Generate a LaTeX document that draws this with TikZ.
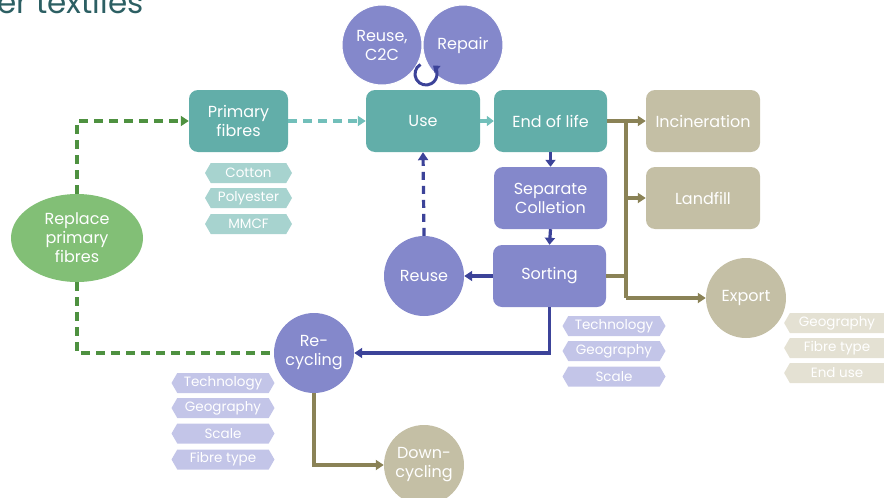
\documentclass[tikz,border=0pt]{standalone}
\usepackage{fontspec}
\setmainfont{Poppins}
\usetikzlibrary{shapes.geometric,shapes.symbols,arrows.meta,calc}
\definecolor{teal1}{HTML}{62AEA9}
\definecolor{teallight}{HTML}{A7D3CF}
\definecolor{tealarrow}{HTML}{72BFBA}
\definecolor{purp}{HTML}{8488CB}
\definecolor{purplight}{HTML}{C3C5E8}
\definecolor{bluearrow}{HTML}{3C4399}
\definecolor{olive}{HTML}{8A8256}
\definecolor{beige}{HTML}{C4BFA5}
\definecolor{beigelight}{HTML}{E4E1D3}
\definecolor{greenfill}{HTML}{82BF76}
\definecolor{greendash}{HTML}{4E9140}
\definecolor{titlecol}{HTML}{2C5F63}
\begin{document}
\begin{tikzpicture}[x=1pt,y=-1pt,
  box/.style={rounded corners=9pt,minimum width=114pt,minimum height=62pt,text=white,
    font=\fontsize{16}{19}\selectfont,align=center,inner sep=2pt},
  tbox/.style={box,fill=teal1},
  pbox/.style={box,fill=purp},
  bbox/.style={box,fill=beige},
  circ/.style={circle,minimum size=80pt,inner sep=0pt,text=white,
    font=\fontsize{16}{19}\selectfont,align=center},
  tagbase/.style={signal,signal to=west and east,signal pointer angle=120,
    minimum height=20pt,inner sep=1pt,text=white,font=\fontsize{13.5}{15}\selectfont},
  ttag/.style={tagbase,fill=teallight,minimum width=87pt},
  ptag/.style={tagbase,fill=purplight,minimum width=103pt},
  etag/.style={tagbase,signal to=west,fill=beigelight,minimum width=110pt},
  arr/.style={line width=3.2pt,-{Triangle[length=8pt,width=10pt]}},
  bluearr/.style={arr,draw=bluearrow,color=bluearrow},
  olivearr/.style={arr,draw=olive,color=olive},
  oliveline/.style={line width=3.2pt,draw=olive},
  greenarr/.style={arr,draw=greendash,color=greendash,dash pattern=on 9pt off 6pt},
  greenline/.style={line width=3.4pt,draw=greendash,dash pattern=on 9pt off 6pt},
]
\useasboundingbox (0,0) rectangle (884,498);
% title fragment
\node[anchor=base west,inner sep=0pt,text=titlecol,font=\fontsize{31}{34}\selectfont] (title) at (-3,13) {er textiles};

% main boxes
\node[tbox,minimum width=99pt] (prim) at (238.5,121) {Primary\\fibres};
\node[tbox] (use) at (423,121) {Use};
\node[tbox,minimum width=113pt] (eol) at (550.5,121) {End of life};
\node[bbox] (inc) at (703,121) {Incineration};
\node[bbox] (land) at (703,198) {Landfill};
\node[pbox,minimum width=113pt] (sep) at (550.5,198) {Separate\\Colletion};
\node[pbox,minimum width=113pt] (sort) at (549.5,276) {Sorting};

% circles
\node[circ,fill=purp,draw=white,line width=1pt] (c2c) at (382,45) {Reuse,\\C2C};
\node[circ,fill=purp,draw=white,line width=1pt] (repair) at (463,45) {Repair};
\node[circ,fill=purp] (reuse) at (424,276) {Reuse};
\node[circ,fill=purp] (recyc) at (314,353) {Re-\\cycling};
\node[circ,fill=beige] (down) at (424,465) {Down-\\cycling};
\node[circ,fill=beige] (export) at (746,298) {Export};
\node[ellipse,fill=greenfill,minimum width=132pt,minimum height=88pt,inner sep=0pt,
  text=white,font=\fontsize{16}{19}\selectfont,align=center] (repl) at (77,238) {Replace\\primary\\fibres};

% tags
\node[ttag] (t1) at (248.5,173) {Cotton};
\node[ttag] (t2) at (248.5,198) {Polyester};
\node[ttag] (t3) at (248.5,224) {MMCF};
\node[ptag] (s1) at (614,326) {Technology};
\node[ptag] (s2) at (614,351) {Geography};
\node[ptag] (s3) at (614,376.5) {Scale};
\node[ptag] (r1) at (223,383) {Technology};
\node[ptag] (r2) at (223,408) {Geography};
\node[ptag] (r3) at (223,433.5) {Scale};
\node[ptag] (r4) at (223,459.5) {Fibre type};
\node[etag] (e1) at (842,323) {\hspace*{-10pt}Geography};
\node[etag] (e2) at (842,348) {\hspace*{-10pt}Fibre type};
\node[etag] (e3) at (842,373) {\hspace*{-10pt}End use};

% coordinates
\coordinate (vtop) at (626,121);
\coordinate (vexp) at (626,298);
\coordinate (loopc) at (426,74);

% green dashed
\draw[greenarr] (repl.north) |- (prim.west);
\draw[greenline] (repl.south) |- (recyc.west);
% teal
\draw[arr,draw=tealarrow,color=tealarrow,dash pattern=on 9pt off 6pt] (prim.east) -- (use.west);
\draw[arr,draw=tealarrow,color=tealarrow,-{Triangle[length=7pt,width=10pt]}] (use.east) -- (eol.west);
% blue
\draw[bluearr,-{Triangle[length=7pt,width=10pt]}] (eol.south) -- (sep.north);
\draw[bluearr,-{Triangle[length=7pt,width=10pt]}] (sep.south) -- (sort.north);
\draw[bluearr] (sort.west) -- (reuse.east);
\draw[bluearr,dash pattern=on 8pt off 6pt] (reuse.north) -- (use.south);
\draw[bluearr] (sort.south) |- (recyc.east);
% loop
\draw[line width=3pt,draw=bluearrow,color=bluearrow,-{Triangle[length=6pt,width=9pt]}]
  ($(loopc)+(-120:11)$) arc[start angle=240,end angle=-50,radius=11];
% olive
\draw[olivearr] (eol.east) -- (inc.west);
\draw[oliveline] (vtop) -- (vexp);
\draw[olivearr] (vtop) |- (land.west);
\draw[olivearr] (vexp) -- (export.west);
\draw[oliveline] (sort.east) -| (vtop);
\draw[olivearr] (recyc.south) |- (down.west);
\end{tikzpicture}
\end{document}
